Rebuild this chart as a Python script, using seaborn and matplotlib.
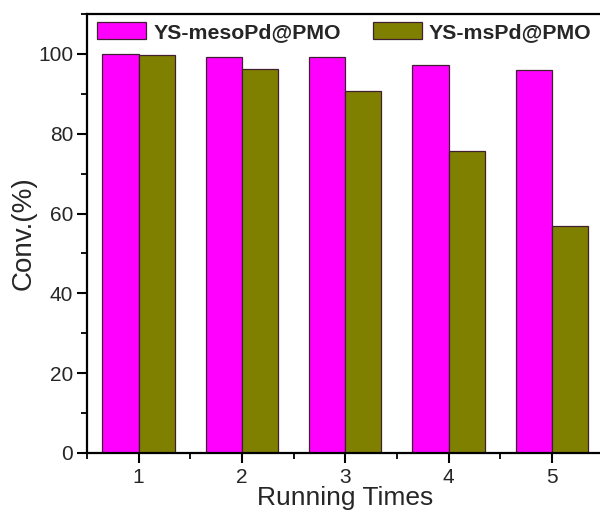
import pandas as pd
import matplotlib.pyplot as plt
import seaborn as sns
from matplotlib.ticker import MultipleLocator

sns.set_style("ticks")
plt.rcParams['font.family'] = ['Liberation Sans', 'DejaVu Sans']

runs = ['1', '2', '3', '4', '5']
meso = [100.0, 99.2, 99.2, 97.2, 96.0]
ms = [99.6, 96.2, 90.6, 75.6, 56.8]
series = ['YS-mesoPd@PMO', 'YS-msPd@PMO']

df = pd.DataFrame({
    'run': runs * 2,
    'conv': meso + ms,
    'catalyst': [series[0]] * len(runs) + [series[1]] * len(runs),
})

fig = plt.figure(figsize=(6, 5.18), dpi=100)
ax = fig.add_axes([0.145, 0.1255, 0.861, 0.8475])

sns.barplot(data=df, x='run', y='conv', hue='catalyst', hue_order=series,
            palette=['#ff00ff', '#808000'], width=0.7, gap=0, saturation=1,
            edgecolor='#402030', linewidth=0.9, ax=ax, legend=True)

ax.set_xlim(-0.5, 4.5)
ax.set_ylim(0, 110)
ax.yaxis.set_major_locator(MultipleLocator(20))
ax.yaxis.set_minor_locator(MultipleLocator(10))
ax.set_xticks(range(len(runs)), runs)
ax.set_xticks([i + 0.5 for i in range(-1, len(runs))], minor=True)

for s in ['left', 'bottom', 'top', 'right']:
    ax.spines[s].set_linewidth(1.6)
    ax.spines[s].set_color('black')

ax.tick_params(axis='both', which='major', direction='out', length=7, width=1.5,
               labelsize=15, pad=3, color='black')
ax.tick_params(axis='x', which='major', pad=4)
ax.tick_params(axis='both', which='minor', direction='out', length=4, width=1.3,
               color='black')

ax.set_xlabel('Running Times', fontsize=19, labelpad=-1)
ax.set_ylabel('Conv.(%)', fontsize=20, labelpad=1)

ax.legend(loc='upper left', bbox_to_anchor=(97 / 600, 1 - 22 / 518),
          bbox_transform=fig.transFigure, ncol=2, frameon=False,
          prop={'weight': 'bold', 'size': 15.3}, borderpad=0, borderaxespad=0,
          handlelength=2.3, handleheight=0.85, handletextpad=0.35,
          columnspacing=1.5)

plt.savefig('out.png', dpi=100)
